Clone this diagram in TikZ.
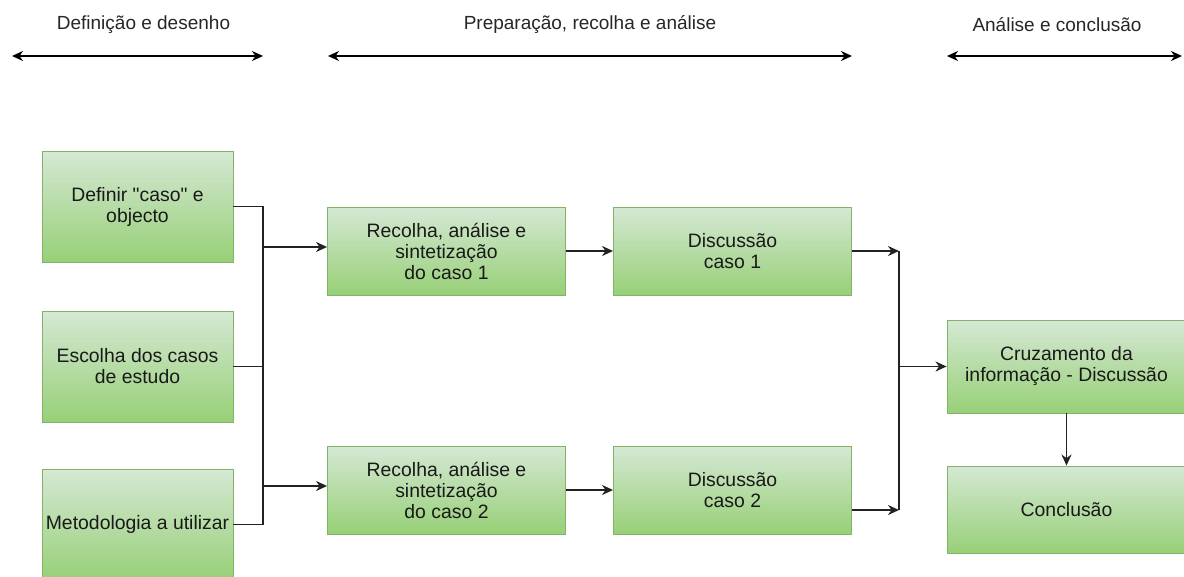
\documentclass[tikz,border=0pt]{standalone}
\usepackage{fontspec}
\setmainfont{Liberation Sans}
\usetikzlibrary{arrows.meta}

\definecolor{boxtop}{HTML}{D5E8D4}
\definecolor{boxbot}{HTML}{97D077}
\definecolor{boxline}{HTML}{82B366}
\definecolor{linha}{HTML}{222222}

\begin{document}
\begin{tikzpicture}[x=1pt, y=-1pt,
        >={Stealth[length=11pt, width=10pt, inset=3.5pt]},
        caixa/.style={draw=boxline, line width=0.9pt, top color=boxtop, bottom color=boxbot,
            align=center, inner sep=2pt, text=black!90,
            font=\fontsize{19.4}{21}\selectfont},
        esq/.style={caixa, minimum width=191pt, minimum height=111pt},
        meio/.style={caixa, minimum width=238pt, minimum height=88pt},
        fim/.style={caixa, minimum width=239pt},
        liga/.style={draw=linha, line width=1.6pt},
        titulo/.style={font=\fontsize{19}{21}\selectfont, text=black!85}]

        \useasboundingbox (0,0) rectangle (1184,576);
        \clip (0,0) rectangle (1184,576);

        % Phases on top
        \foreach \fase/\xa/\xb/\xt/\txt in {def/12/263/143.5/{Definição e desenho},
                prep/328/852/590/{Preparação, recolha e análise},
                conc/947/1182/1057/{Análise e conclusão}}{
            \coordinate (\fase a) at (\xa,56);
            \coordinate (\fase b) at (\xb,56);
            \node[titulo] (h\fase) at (\xt,25) {\txt};
            \draw[<->, line width=1.6pt] (\fase a) -- (\fase b);
        }

        % Boxes
        \node[esq] (definir) at (137.5,206.5) {Definir \textquotedbl caso\textquotedbl{} e\\objecto};
        \node[esq] (escolha) at (137.5,366.5) {Escolha dos casos\\de estudo};
        \node[esq] (metodo) at (137.5,524.5) {Metodologia a utilizar};

        \node[meio] (recolhaA) at (446.5,251) {Recolha, análise e\\sintetização\\do caso 1};
        \node[meio] (recolhaB) at (446.5,490) {Recolha, análise e\\sintetização\\do caso 2};

        \node[meio] (discA) at (732.5,251) {Discussão\\caso 1};
        \node[meio] (discB) at (732.5,490) {Discussão\\caso 2};

        \node[fim, minimum height=93pt] (cruz) at (1066.5,366.5) {Cruzamento da\\informação - Discussão};
        \node[fim, minimum height=87pt] (concl) at (1066.5,509.5) {Conclusão};

        % Connectors
        \coordinate (busL) at (263,0);
        \coordinate (busR) at (899,0);

        \draw[liga] (definir.east) -- (busL |- definir.east) |- (metodo.east);
        \draw[liga] (escolha.east) -- (busL |- escolha.east);
        \draw[liga, ->] (busL |- 0,247) -- ([yshift=4pt]recolhaA.west);
        \draw[liga, ->] (busL |- 0,486) -- ([yshift=4pt]recolhaB.west);

        \draw[liga, ->] (recolhaA) -- (discA);
        \draw[liga, ->] (recolhaB) -- (discB);

        \draw[liga, ->] (discA.east) -- (busR |- discA.east);
        \draw[liga, ->] ([yshift=-20pt]discB.east) -- (busR |- 0,510);
        \draw[liga] (busR |- discA.east) -- (busR |- 0,510);
        \draw[liga, ->] (busR |- cruz.west) -- (cruz.west);

        \draw[liga, ->] (cruz) -- (concl);

    \end{tikzpicture}
\end{document}
